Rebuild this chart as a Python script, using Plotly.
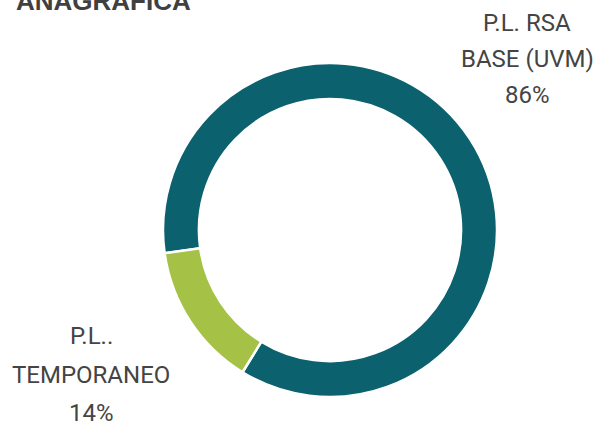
import plotly.graph_objects as go

# ---- data ----
categories = ["P.L. RSA BASE (UVM)", "P.L.. TEMPORANEO"]
label_lines = [["P.L. RSA", "BASE (UVM)"], ["P.L..", "TEMPORANEO"]]
values = [86, 14]
colors = ["#0b616d", "#a5c146"]
title_text = "ANAGRAFICA"

W, H = 596, 421

fig = go.Figure(go.Pie(
    labels=categories,
    values=values,
    hole=0.785,
    sort=False,
    direction="clockwise",
    rotation=262,
    marker=dict(colors=colors, line=dict(color="white", width=2.5)),
    textinfo="none",
    hoverinfo="label+percent",
    domain=dict(x=[163 / W, 497 / W], y=[1 - 397 / H, 1 - 63 / H]),
    showlegend=False,
))

total = sum(values)
label_pos = [(527, [23, 59, 95]), (91, [336, 375, 413])]
annotations = []
for (cx, ys), lines, v in zip(label_pos, label_lines, values):
    texts = lines + [f"{round(100 * v / total)}%"]
    for t, yy in zip(texts, ys):
        annotations.append(dict(
            text=t, x=cx / W, y=1 - yy / H, xref="paper", yref="paper",
            xanchor="center", yanchor="middle", showarrow=False,
            font=dict(family="Roboto", size=24, color="#444444"),
        ))

annotations.append(dict(
    text=f"<b>{title_text}</b>", x=14 / W, y=1 - 10 / H, xref="paper", yref="paper",
    xanchor="left", yanchor="bottom", showarrow=False, yshift=-8,
    font=dict(family="Liberation Sans", size=26, color="#404040"),
))

fig.update_layout(
    width=W, height=H,
    margin=dict(l=0, r=0, t=0, b=0),
    paper_bgcolor="white", plot_bgcolor="white",
    annotations=annotations,
)

fig.write_html("out.html")
